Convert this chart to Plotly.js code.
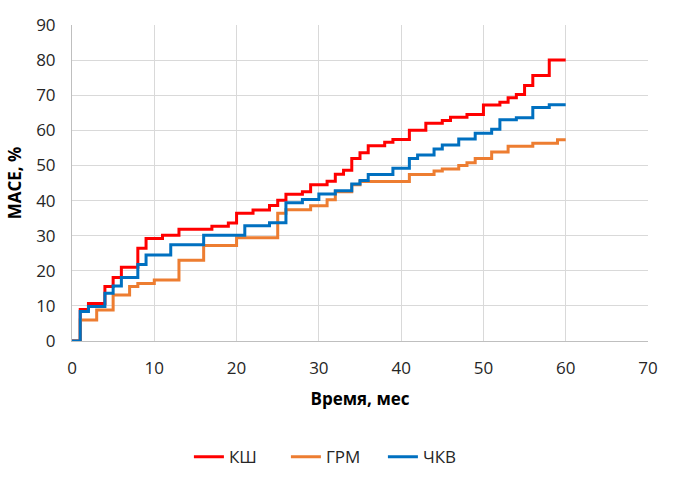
<!DOCTYPE html>
<html>
<head>
<meta charset="utf-8">
<script src="https://cdn.plot.ly/plotly-3.0.1.min.js"></script>
<style>html,body{margin:0;padding:0;background:#fff;}#chart{width:682px;height:489px;}</style>
</head>
<body>
<div id="chart"></div>
<script>
// Step times (months) and cumulative MACE (%) for each group
const ksT = [0, 1, 2, 4, 5, 6, 8, 9, 11, 13, 17, 19, 20, 22, 24, 25, 26, 28, 29, 31, 32, 33, 34, 35, 36, 38, 39, 41, 43, 45, 46, 48, 50, 52, 53, 54, 55, 56, 58, 60];
const ksV = [0, 9.0, 10.7, 15.5, 18.1, 21.0, 26.4, 29.2, 30.1, 31.8, 32.7, 33.6, 36.4, 37.3, 38.6, 40.1, 41.8, 42.5, 44.5, 45.5, 47.5, 48.6, 52.0, 53.6, 55.6, 56.6, 57.4, 60.0, 62.0, 62.8, 63.7, 64.5, 67.2, 68.0, 69.3, 70.2, 72.8, 75.6, 80.0, 80.0];

const grmT = [0, 1, 3, 5, 7, 8, 10, 13, 16, 20, 25, 26, 29, 31, 32, 34, 35, 41, 44, 45, 47, 48, 49, 51, 53, 56, 59, 60];
const grmV = [0, 6.0, 8.8, 13.1, 15.5, 16.4, 17.4, 23.0, 27.2, 29.4, 36.4, 37.4, 38.5, 40.2, 42.5, 44.5, 45.4, 47.4, 48.4, 49.0, 50.0, 50.8, 52.0, 53.8, 55.5, 56.3, 57.3, 57.3];

const chkvT = [0, 1, 2, 4, 5, 6, 8, 9, 12, 16, 21, 24, 26, 28, 30, 32, 34, 35, 36, 39, 41, 42, 44, 45, 47, 49, 51, 52, 54, 56, 58, 60];
const chkvV = [0, 8.4, 9.8, 13.6, 15.7, 18.1, 21.8, 24.5, 27.4, 30.1, 32.8, 33.7, 39.4, 40.3, 41.9, 42.8, 44.7, 45.7, 47.4, 49.2, 52.0, 53.0, 54.7, 55.8, 57.5, 59.2, 60.3, 63.0, 63.6, 66.5, 67.3, 67.3];

const seriesNames = ['КШ', 'ГРМ', 'ЧКВ'];
const xTicks = [0, 10, 20, 30, 40, 50, 60, 70];
const yTicks = [0, 10, 20, 30, 40, 50, 60, 70, 80, 90];

const FONT = 'Open Sans, Liberation Sans, sans-serif';

function trace(x, y, name, color) {
  return {x: x, y: y, name: name, type: 'scatter', mode: 'lines',
          line: {shape: 'hv', color: color, width: 3}};
}

const data = [
  trace(ksT, ksV, seriesNames[0], '#FF0000'),
  trace(grmT, grmV, seriesNames[1], '#ED7D31'),
  trace(chkvT, chkvV, seriesNames[2], '#0070C0')
];

const layout = {
  width: 682, height: 489,
  margin: {l: 72, r: 34, t: 25, b: 148},
  paper_bgcolor: '#fff', plot_bgcolor: '#fff',
  font: {family: FONT, size: 17, color: '#262626'},
  showlegend: true,
  legend: {orientation: 'h', xref: 'container', yref: 'container',
           x: 0.277, xanchor: 'left', y: 0.065, yanchor: 'middle',
           entrywidth: 52, entrywidthmode: 'pixels',
           font: {family: FONT, size: 17, color: '#262626'}, itemwidth: 30},
  xaxis: {range: [0, 70], tickvals: xTicks, ticktext: xTicks.map(String),
          showgrid: true, gridcolor: '#d9d9d9', gridwidth: 1,
          zeroline: false, showline: true, linecolor: '#bfbfbf', linewidth: 1,
          ticks: '', ticklen: 0, ticklabelstandoff: 12,
          title: {text: '<b>Время, мес</b>', font: {family: FONT, size: 17, color: '#000'}, standoff: 14}},
  yaxis: {range: [0, 90], tickvals: yTicks, ticktext: yTicks.map(String),
          showgrid: true, gridcolor: '#d9d9d9', gridwidth: 1,
          zeroline: false, showline: true, linecolor: '#bfbfbf', linewidth: 1,
          ticks: '', ticklen: 0, ticklabelstandoff: 12,
          title: {text: '<b>MACE, %</b>', font: {family: FONT, size: 17, color: '#000'}, standoff: 10}}
};

Plotly.newPlot('chart', data, layout, {displayModeBar: false, staticPlot: true});
</script>
</body>
</html>
